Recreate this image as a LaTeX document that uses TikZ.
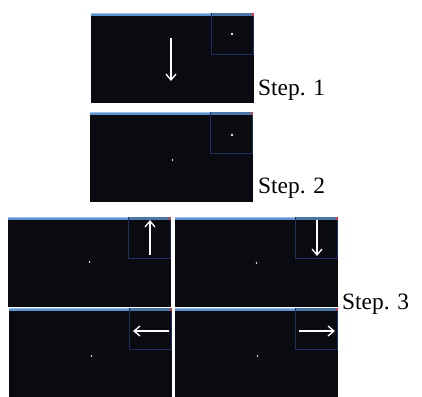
\documentclass[tikz,border=0pt]{standalone}
\usepackage{fontspec}
\setmainfont{Liberation Serif}
\usetikzlibrary{arrows.meta}
\definecolor{scr}{HTML}{0A0B10}
\definecolor{bar}{HTML}{5E93D2}
\definecolor{barlite}{HTML}{9CC0E8}
\definecolor{insetb}{HTML}{1E2E60}
\definecolor{closer}{HTML}{D04040}
\tikzset{
  x=1bp, y=-1bp,
  screenbox/.style={fill=scr, draw=none, minimum width=163bp, minimum height=90bp, inner sep=0pt, outer sep=0pt, anchor=north west},
  insetbox/.style={draw=insetb, line width=0.9bp, fill=scr, minimum width=42bp, minimum height=41bp, inner sep=0pt, outer sep=0pt, anchor=north east},
  move/.style={white, line width=1.3bp, -{Straight Barb[length=6bp,width=10bp,line width=1.3bp]}},
  steplabel/.style={font=\fontsize{23.5}{26}\selectfont, anchor=base west, inner sep=0pt},
  tinymark/.style={white, line width=0.6bp},
  screen/.pic={
    \node[screenbox] (-s) at (0,0) {};
    \fill[bar] (0,0) rectangle (163,2.5);
    \fill[barlite] (0,0) rectangle (163,0.8);
    \node[insetbox] (-i) at (162.5,0.5) {};
    \fill[bar!80!black] (121,0) rectangle (163,2.5);
    \fill[closer] (160.5,0) rectangle (163,2.5);
  },
}
\begin{document}
\begin{tikzpicture}
  \fill[white] (0,0) rectangle (422,397);
  \useasboundingbox (0,0) rectangle (422,397);

  % Step 1
  \pic (a) at (91,13) {screen};
  \coordinate (a1) at (171,38);
  \coordinate (a2) at (171,81);
  \draw[move] (a1) -- (a2);
  \draw[tinymark] (231,33) -- (233,35) (233,33) -- (231,35);
  \node[steplabel] (la) at (258,95) {Step. 1};

  % Step 2
  \pic (b) at (90,112) {screen};
  \draw[tinymark] (231,134) -- (233,136) (233,134) -- (231,136);
  \draw[tinymark] (173,159) -- (172,160) -- (173,161);
  \node[steplabel] (lb) at (258,193) {Step. 2};

  % Step 3
  \pic (c) at (8,217) {screen};
  \pic (d) at (175,217) {screen};
  \pic (e) at (9,308) {screen};
  \pic (f) at (175,308) {screen};

  \coordinate (c1) at (150,255);
  \coordinate (c2) at (150,220);
  \draw[move] (c1) -- (c2);
  \draw[tinymark] (90,261) -- (89,262) -- (90,263);

  \coordinate (d1) at (317,220);
  \coordinate (d2) at (317,256);
  \draw[move] (d1) -- (d2);
  \draw[tinymark] (257,262) -- (256,263) -- (257,264);

  \coordinate (e1) at (169,331);
  \coordinate (e2) at (133,331);
  \draw[move] (e1) -- (e2);
  \draw[tinymark] (92,355) -- (91,356) -- (92,357);

  \coordinate (f1) at (299,331);
  \coordinate (f2) at (335,331);
  \draw[move] (f1) -- (f2);
  \draw[tinymark] (258,355) -- (257,356) -- (258,357);

  \node[steplabel] (lc) at (342,309) {Step. 3};
\end{tikzpicture}
\end{document}
